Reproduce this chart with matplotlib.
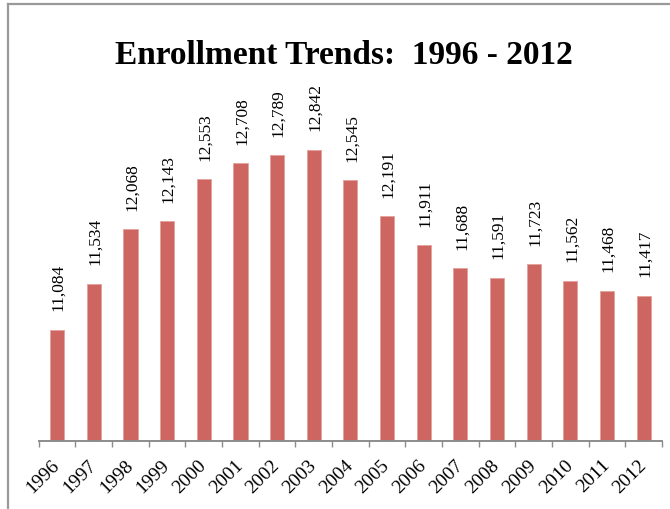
import matplotlib
matplotlib.use("Agg")
import matplotlib.pyplot as plt
from matplotlib.lines import Line2D
from matplotlib.ticker import FixedLocator

plt.rcParams['font.family'] = ['Liberation Serif', 'DejaVu Serif']

years = ["1996", "1997", "1998", "1999", "2000", "2001", "2002", "2003", "2004",
         "2005", "2006", "2007", "2008", "2009", "2010", "2011", "2012"]
enrollment = [11084, 11534, 12068, 12143, 12553, 12708, 12789, 12842, 12545,
              12191, 11911, 11688, 11591, 11723, 11562, 11468, 11417]

W, H = 670, 510
fig = plt.figure(figsize=(W / 100, H / 100), dpi=100)
ax = fig.add_axes([38.7 / W, 1 - 442 / H, 623.3 / W, 410 / H])

x = list(range(len(years)))
bars = ax.bar(x, enrollment, width=0.39, color="#CD6660",
              edgecolor="#E4A19C", linewidth=0.6, zorder=2)

for xi, v in zip(x, enrollment):
    ax.annotate(f"{v:,}", (xi, v), xytext=(1, 14), textcoords="offset points",
                rotation=90, ha="center", va="bottom", fontsize=12.5)

ax.set_xlim(-0.5, len(years) - 0.5)
ax.set_ylim(10000, 14000)

# category labels at centres, tick marks on the boundaries
ax.set_xticks(x)
ax.set_xticklabels(years, rotation=45, ha="right", va="center",
                   rotation_mode="anchor", fontsize=14)
ax.tick_params(axis="x", which="major", length=0, pad=15)
ax.xaxis.set_minor_locator(FixedLocator([i - 0.5 for i in range(len(years) + 1)]))
ax.tick_params(axis="x", which="minor", length=4, width=1, color="#8C8C8C")
ax.set_yticks([])

for side in ["left", "right", "top"]:
    ax.spines[side].set_visible(False)
ax.spines["bottom"].set_color("#8C8C8C")
ax.spines["bottom"].set_linewidth(1.4)

fig.text(343.5 / W, 1 - 64 / H, "Enrollment Trends:  1996 - 2012",
         ha="center", va="baseline", fontsize=24, fontweight="bold")

# outer frame (left and top edges)
fig.add_artist(Line2D([8 / W, 8 / W], [0, 1 - 4.5 / H], color="#999999", lw=1.6))
fig.add_artist(Line2D([8 / W, 1], [1 - 4.5 / H, 1 - 4.5 / H], color="#999999", lw=1.6))

fig.savefig("out.png", dpi=100)
